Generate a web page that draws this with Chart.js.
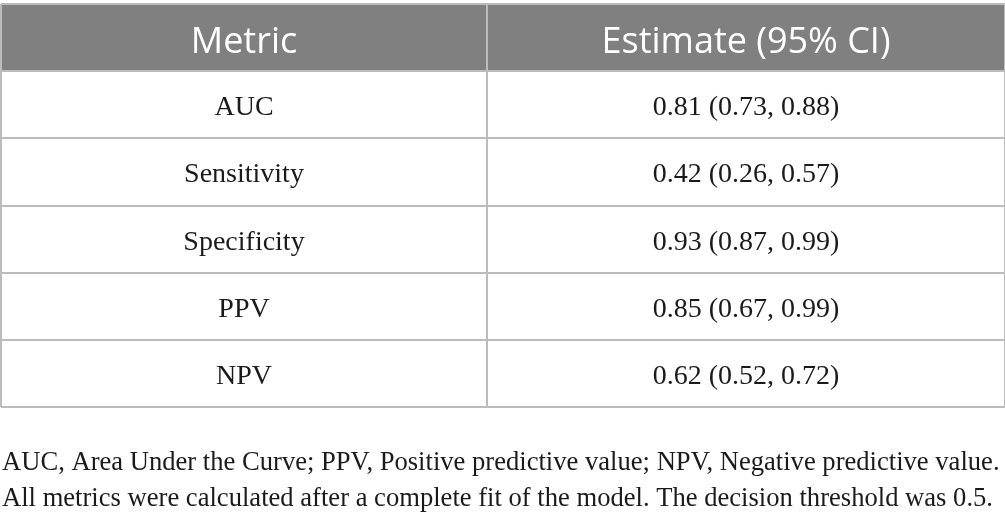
<!DOCTYPE html>
<html lang="en">

<head>
    <meta charset="UTF-8">
    <title>Model metrics</title>
    <style>
        html, body { margin: 0; padding: 0; background: #ffffff; }
        #wrap { width: 1005px; height: 522px; }
    </style>
</head>

<body>
    <div id="wrap">
        <canvas id="metricsTable" width="1005" height="522"></canvas>
    </div>

    <script src="https://cdn.jsdelivr.net/npm/chart.js"></script>
    <script>
        // table content
        const headers = ['Metric', 'Estimate (95% CI)'];
        const metrics = ['AUC', 'Sensitivity', 'Specificity', 'PPV', 'NPV'];
        const estimates = [0.81, 0.42, 0.93, 0.85, 0.62];
        const lowerCI = [0.73, 0.26, 0.87, 0.67, 0.52];
        const upperCI = [0.88, 0.57, 0.99, 0.99, 0.72];
        const notes = [
            'AUC, Area Under the Curve; PPV, Positive predictive value; NPV, Negative predictive value.',
            'All metrics were calculated after a complete fit of the model. The decision threshold was 0.5.'
        ];

        // layout of the columns on the x scale
        const colEdges = [0, 486, 1004];

        const fmt = v => v.toFixed(2);
        const cellText = metrics.map((m, i) =>
            [m, `${fmt(estimates[i])} (${fmt(lowerCI[i])}, ${fmt(upperCI[i])})`]);

        const rowLabels = [headers[0]].concat(metrics);
        const lineColor = '#bcbcbc';

        const tablePlugin = {
            id: 'tablePlugin',
            beforeDraw(chart) {
                const { ctx, scales: { x, y } } = chart;
                ctx.save();
                ctx.fillStyle = '#ffffff';
                ctx.fillRect(0, 0, chart.width, chart.height);
                // header band = first category row
                const top = chart.chartArea.top;
                const bottom = (y.getPixelForValue(0) + y.getPixelForValue(1)) / 2;
                ctx.fillStyle = '#808080';
                ctx.fillRect(x.getPixelForValue(colEdges[0]), top,
                    x.getPixelForValue(colEdges[2]) - x.getPixelForValue(colEdges[0]), bottom - top);
                ctx.restore();
            },
            afterDraw(chart) {
                const { ctx, scales: { x, y } } = chart;
                const colCenter = c => x.getPixelForValue((colEdges[c] + colEdges[c + 1]) / 2);
                ctx.save();
                ctx.textAlign = 'center';
                ctx.textBaseline = 'alphabetic';

                ctx.fillStyle = '#ffffff';
                ctx.font = '36px "Open Sans"';
                headers.forEach((h, c) => ctx.fillText(h, colCenter(c), y.getPixelForValue(0) + 15));

                ctx.fillStyle = '#1a1a1a';
                ctx.font = '28px "Liberation Serif"';
                cellText.forEach((row, r) => {
                    row.forEach((t, c) => ctx.fillText(t, colCenter(c), y.getPixelForValue(r + 1) + 10.5));
                });

                ctx.textAlign = 'left';
                ctx.font = '26.6px "Liberation Serif"';
                notes.forEach((n, i) => ctx.fillText(n, 2, chart.chartArea.bottom + 63 + i * 36));
                ctx.restore();
            }
        };

        new Chart(document.getElementById('metricsTable'), {
            type: 'bar',
            data: {
                labels: rowLabels,
                datasets: []
            },
            options: {
                indexAxis: 'y',
                responsive: false,
                animation: false,
                devicePixelRatio: 1,
                layout: { padding: { top: 4, left: 1, right: 0, bottom: 115 } },
                plugins: {
                    legend: { display: false },
                    tooltip: { enabled: false },
                    title: { display: false }
                },
                scales: {
                    x: {
                        type: 'linear',
                        position: 'top',
                        min: colEdges[0],
                        max: colEdges[2],
                        afterBuildTicks: scale => {
                            scale.ticks = colEdges.map(v => ({ value: v }));
                        },
                        ticks: { display: false },
                        border: { display: false },
                        grid: { color: lineColor, lineWidth: 2, drawTicks: false }
                    },
                    y: {
                        type: 'category',
                        offset: true,
                        ticks: { display: false },
                        border: { display: false },
                        grid: { offset: true, color: lineColor, lineWidth: 2, drawTicks: false }
                    }
                }
            },
            plugins: [tablePlugin]
        });
    </script>
</body>

</html>
